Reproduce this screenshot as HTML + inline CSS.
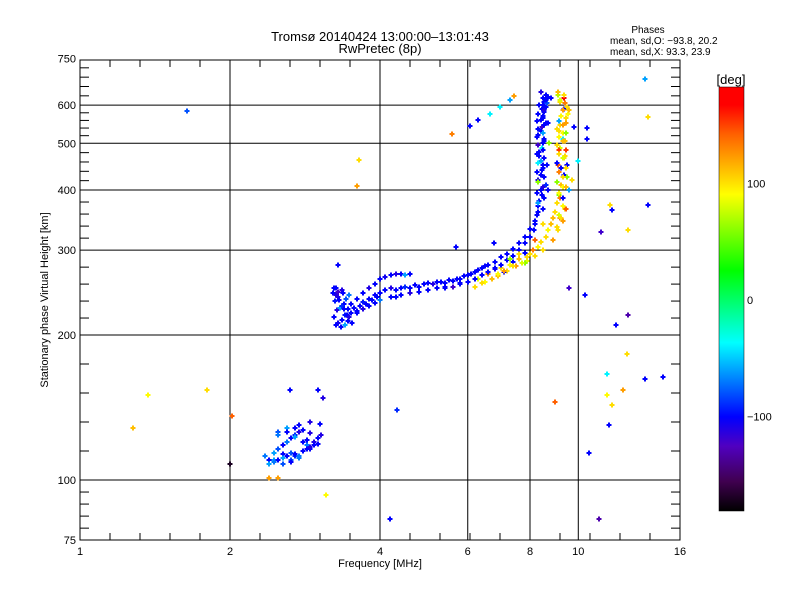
<!DOCTYPE html>
<html><head><meta charset="utf-8"><style>
body{margin:0;background:#fff}
svg{display:block;font-family:"Liberation Sans",sans-serif}
</style></head><body>
<svg id="chart" width="800" height="600" viewBox="0 0 800 600">
<defs>
<linearGradient id="cbg" x1="0" y1="0" x2="0" y2="1">
<stop offset="0" stop-color="#ff0000"/>
<stop offset="0.042" stop-color="#ff0000"/>
<stop offset="0.111" stop-color="#ff6000"/>
<stop offset="0.253" stop-color="#ffff00"/>
<stop offset="0.433" stop-color="#00ff00"/>
<stop offset="0.603" stop-color="#00ffff"/>
<stop offset="0.778" stop-color="#0000ff"/>
<stop offset="0.847" stop-color="#5000c0"/>
<stop offset="0.93" stop-color="#400050"/>
<stop offset="1" stop-color="#000000"/>
</linearGradient>
</defs>
<text x="380" y="41" text-anchor="middle" font-size="13">Tromsø 20140424 13:00:00–13:01:43</text>
<text x="380" y="53" text-anchor="middle" font-size="13">RwPretec (8p)</text>
<text x="648" y="33" text-anchor="middle" font-size="10">Phases</text>
<text x="610" y="44" font-size="10">mean, sd,O: −93.8, 20.2</text>
<text x="610" y="55" font-size="10">mean, sd,X:  93.3, 23.9</text>
<g id="grid"></g>
<g id="marks"></g>
<g id="axes"></g>
<text x="380" y="567" text-anchor="middle" font-size="11">Frequency [MHz]</text>
<text transform="translate(48,300) rotate(-90)" text-anchor="middle" font-size="11">Stationary phase Virtual Height [km]</text>
<rect x="719" y="87" width="25" height="424" fill="url(#cbg)"/>
<text x="731" y="84" text-anchor="middle" font-size="13">[deg]</text>
<g id="cbticks"></g>
</svg>
<script>
const xTicks=[1,2,4,6,8,10,16];
const yTicks=[75,100,200,300,400,500,600,750];
const cbTicks=[100,0,-100];
const freq=[3.22,3.25,3.28,3.24,3.3,3.35,3.4,3.45,3.5,3.3,3.38,3.42,3.32,3.55,3.6,3.65,3.7,3.75,3.8,3.85,3.9,3.95,4.0,4.1,4.2,4.3,4.4,4.5,4.6,4.7,4.8,4.9,5.0,5.1,5.2,5.3,5.4,5.5,5.6,5.7,5.8,5.9,6.0,6.1,6.2,6.3,6.4,6.5,6.6,6.8,7.0,7.2,7.4,7.6,7.8,8.0,8.2,
4.0,4.1,4.2,4.3,4.4,4.5,4.6,3.6,3.7,3.8,3.9,4.0,4.3,4.6,5.0,5.4,5.8,6.2,6.6,7.0,7.4,7.8,3.27,3.36,3.46,3.52,
8.3,8.35,8.4,8.3,8.45,8.4,8.35,8.5,8.3,8.45,8.4,8.55,8.35,8.5,8.4,8.3,8.45,8.6,8.4,8.5,8.35,8.45,8.55,8.4,8.6,8.5,8.45,8.55,8.6,8.5,8.7,8.65,8.75,8.7,8.8,
6.0,6.3,6.6,7.0,7.3,7.6,8.0,8.3,8.6,8.8,9.0,6.2,6.5,6.9,7.2,7.5,7.9,8.2,8.5,8.9,7.1,7.8,
9.1,9.2,9.3,9.15,9.25,9.35,9.1,9.4,9.2,9.3,9.15,9.45,9.25,9.35,9.2,9.1,9.3,9.4,9.2,9.3,9.5,9.25,9.35,9.15,9.4,9.3,9.2,9.45,9.3,9.35,9.1,9.25,9.6,9.7,9.5,
2.35,2.4,2.45,2.5,2.55,2.6,2.65,2.7,2.75,2.8,2.85,2.9,2.95,3.0,3.05,2.5,2.6,2.7,2.75,2.8,2.9,2.45,2.55,2.65,2.85,3.0,2.4,2.7,
1.64,1.28,1.37,1.8,2.02,2.0,2.4,2.5,2.64,3.0,3.07,3.03,3.11,3.6,3.63,4.18,4.33,3.3,5.69,6.77,
5.57,6.06,6.28,6.64,6.96,7.29,7.43,
9.8,10.0,10.4,10.4,10.3,9.6,9.0,10.5,11.0,11.4,11.4,11.7,11.7,11.5,11.6,12.3,12.5,12.6,11.9,12.6,13.6,13.8,14.8,13.8,13.6,11.1,
3.6,3.7,3.8,3.9,4.0,4.2,4.4,4.6,4.8,5.0,5.2,5.4,5.6,5.8,6.0,6.2,6.4,6.6,6.8,7.0,7.2,7.4,7.6,7.8,8.0,
8.25,8.5,8.3,8.55,8.25,8.5,8.3,8.55,8.25,8.5,8.3,8.55,8.25,8.5,8.3,8.55,8.25,8.5,8.3,8.55,8.25,8.5,8.3,8.55,8.6,8.65,8.6,8.7,8.2,8.15,
9.05,9.3,9.15,9.45,9.05,9.3,9.15,9.45,9.05,9.3,9.15,9.45,9.05,9.3,9.15,9.45,9.05,9.3,9.15,9.45,9.05,9.3,9.15,9.45,9.55,9.6,9.5,9.4,9.2,9.35,
6.4,6.7,6.9,7.1,7.4,7.7,7.9,8.1,8.4,8.7,8.9,6.8,7.3,7.6,8.2,8.5,
3.23,3.27,3.31,3.35,3.39,3.43,3.47,3.26,3.34,3.41,3.29,3.37,3.45,3.5,
2.45,2.5,2.55,2.6,2.65,2.7,2.75,2.8,2.85,2.9,2.95,3.0,2.5,2.6,2.7,2.8,2.9,2.55,2.65,2.75];
const height=[245,235,225,218,212,215,220,214,222,240,232,238,228,228,224,230,234,232,238,236,242,240,245,248,250,248,250,252,250,254,252,255,256,255,258,258,257,260,259,262,262,265,266,268,270,273,275,278,280,284,290,295,302,310,320,332,345,
262,264,266,268,268,267,268,238,245,250,255,236,240,244,248,252,257,262,268,275,284,296,250,248,242,212,
360,380,400,420,440,460,480,500,520,540,560,580,600,620,640,370,390,410,430,450,470,490,510,530,550,570,590,610,630,600,400,450,500,550,620,
258,262,268,275,280,288,295,305,320,340,360,252,258,265,272,278,285,292,300,315,270,282,
330,350,370,390,410,430,450,470,490,510,530,550,570,590,610,630,345,365,385,405,425,445,465,485,505,525,545,565,585,620,640,350,400,420,450,
112,110,114,116,118,120,122,124,126,120,118,116,120,122,124,126,128,128,130,127,132,110,113,114,121,119,108,112,
583,128,150,154,136,108,101,101,154,154,148,131,93,408,461,83,140,279,305,310,
523,543,558,575,594,615,626,
541,460,539,510,242,250,145,114,83,150,166,364,143,130,372,154,183,220,210,330,162,373,164,567,680,327,
222,226,230,233,236,240,242,244,246,248,250,250,252,255,258,262,266,270,274,280,286,292,300,310,320,
355,365,375,385,395,405,415,425,435,445,455,465,475,485,495,505,515,525,535,545,555,565,575,585,595,605,615,625,340,330,
335,345,355,365,375,385,395,405,415,425,435,445,455,465,475,485,495,505,515,525,535,545,555,565,575,585,595,605,615,630,
256,262,268,272,278,282,290,300,312,330,350,275,288,295,315,340,
250,242,236,230,226,220,218,210,208,210,246,244,226,232,
109,110,111,112,110,113,112,115,116,117,118,119,124,126,123,127,125,108,109,111];
const phase=[-100,-95,-110,-100,-105,-100,-95,-100,-100,-110,-100,-80,-60,-100,-100,-100,-95,-100,-100,-100,-100,-100,-100,-100,-110,-100,-100,-90,-100,-100,-100,-100,-100,-110,-100,-100,-100,-100,-100,-100,-100,-100,-100,-100,-100,-100,-100,-100,-100,-100,-100,-100,-100,-100,-100,-100,-100,
-100,-105,-100,-110,-100,-60,-100,-100,-100,-110,-100,-100,-100,-100,-105,-100,-100,-100,-100,-100,-100,-100,-100,-110,-70,-100,
-100,-95,-100,-110,-100,-60,-100,-100,-100,-120,-100,-100,-100,-100,-110,-100,-100,-90,-100,-100,-100,-40,-100,-100,-100,-100,-100,-100,-100,-100,-100,-100,60,-100,-100,
100,80,120,100,90,110,100,90,100,110,100,100,90,110,100,120,80,100,100,120,-100,60,
100,130,90,60,110,-100,140,100,80,-40,100,120,90,-100,100,70,110,100,130,90,60,-100,100,150,110,90,100,80,120,170,110,100,-60,100,-100,
-70,-100,-60,-80,-100,-70,-100,-90,-110,-100,-70,-100,-110,-100,-110,-80,-60,-100,-100,-120,-110,-60,-100,-80,-100,-100,-60,-90,
-80,110,90,100,140,-170,120,120,-100,-100,-110,-100,90,120,100,-100,-90,-100,-100,-100,
130,-100,-100,-40,-40,-60,120,
-100,-40,-100,-100,-100,-120,140,-100,-130,90,-40,-100,100,-100,100,120,100,-130,-100,100,-100,-100,-100,100,-60,-120,
-100,-110,-100,-100,-70,-100,-100,-110,-100,-100,-100,-100,-120,-100,-100,-100,-100,-100,-110,-100,-100,-100,-100,-100,-100,
-100,-100,-60,-100,-100,-110,60,-100,-100,-100,-40,-100,-100,-100,-120,-100,-100,-60,-100,-100,-100,-100,-100,-110,-100,-80,-100,-100,-100,-100,
100,120,80,140,100,-100,90,110,60,100,130,100,-100,80,100,150,100,110,90,60,100,120,-60,100,90,110,100,130,80,100,
100,110,90,120,100,80,100,130,100,90,110,-100,60,100,140,100,
-100,-110,-100,-90,-100,-100,-110,-100,-100,-60,-120,-100,-100,-100,
-70,-100,-60,-100,-80,-100,-70,-100,-100,-110,-100,-100,-70,-100,-60,-100,-110,-80,-100,-70];

const NS="http://www.w3.org/2000/svg";
const X0=80,X1=680,Y0=60,Y1=540;
function xs(f){return 80+150*Math.log2(f);}
function ys(h){return 480-481.7*Math.log10(h/100);}
function cy(v){return 300-1.165*v;}
const stops=[[-180,[0,0,0]],[-155,[64,0,80]],[-125,[80,0,192]],[-100,[0,0,255]],[-37,[0,255,255]],[24,[0,255,0]],[89,[255,255,0]],[140,[255,96,0]],[165,[255,0,0]],[180,[255,0,0]]];
function col(v){for(let i=1;i<stops.length;i++){if(v<=stops[i][0]){const a=stops[i-1],b=stops[i];const t=(v-a[0])/(b[0]-a[0]);const c=a[1].map((q,k)=>Math.round(q+(b[1][k]-q)*t));return `rgb(${c})`;}}return "rgb(255,0,0)";}
function mk(tag,attrs,parent){const e=document.createElementNS(NS,tag);for(const k in attrs)e.setAttribute(k,attrs[k]);parent.appendChild(e);return e;}
const grid=document.getElementById('grid'),axes=document.getElementById('axes'),marks=document.getElementById('marks'),cbt=document.getElementById('cbticks');
[2,4,6,8,10].forEach(f=>{const l=mk('line',{x1:xs(f),x2:xs(f),y1:Y0,y2:Y1,stroke:'#000','stroke-width':1},grid);

});
[100,200,300,400,500,600].forEach(h=>{const l=mk('line',{x1:X0,x2:X1,y1:ys(h),y2:ys(h),stroke:'#000','stroke-width':1},grid);

});
for(let i=0;i<freq.length;i++){const x=Math.round(xs(freq[i])),y=Math.round(ys(height[i]));
const p=mk('path',{d:`M${x-2.5} ${y}H${x+2.5}M${x} ${y-2.5}V${y+2.5}`,stroke:col(phase[i]),'stroke-width':2},marks);

}
const fr=mk('rect',{x:X0,y:Y0,width:X1-X0,height:Y1-Y0,fill:'none',stroke:'#000','stroke-width':1},axes);


for(let x=X0;x<=X1;x+=30){mk('line',{x1:x,x2:x,y1:Y1,y2:Y1-7,stroke:'#000'},axes);mk('line',{x1:x,x2:x,y1:Y0,y2:Y0+7,stroke:'#000'},axes);}
xTicks.forEach(f=>{const t=mk('text',{x:xs(f),y:555,'text-anchor':'middle','font-size':11},axes);t.textContent=f;

});
for(let i=0;i<yTicks.length-1;i++){const a=ys(yTicks[i]),b=ys(yTicks[i+1]);for(let k=1;k<5;k++){const y=a+(b-a)*k/5;mk('line',{x1:X0,x2:X0+9,y1:y,y2:y,stroke:'#000'},axes);mk('line',{x1:X1,x2:X1-9,y1:y,y2:y,stroke:'#000'},axes);}}
yTicks.forEach(h=>{const t=mk('text',{x:76,y:ys(h)+4,'text-anchor':'end','font-size':11},axes);t.textContent=h;

});
mk('rect',{x:719,y:87,width:25,height:424,fill:'none',stroke:'#000','stroke-width':0.5},cbt);
cbTicks.forEach(v=>{const t=mk('text',{x:747,y:cy(v)+4,'font-size':11},cbt);t.textContent=v===-100?'−100':v;

});
</script>
</body></html>
